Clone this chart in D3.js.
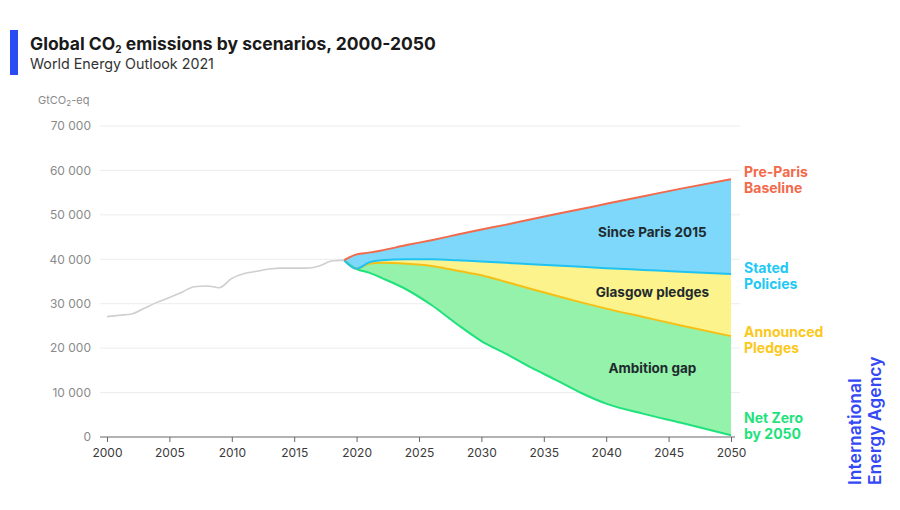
<!DOCTYPE html>
<html>
<head>
<meta charset="utf-8">
<script src="https://d3js.org/d3.v7.min.js"></script>
<style>
  body { margin: 0; background: #fff; }
  svg text { font-family: Inter, "Open Sans", sans-serif; }
</style>
</head>
<body>
<div id="chart"></div>
<script>
// historical emissions (grey line)
var histYears = [2000, 2001, 2002, 2003, 2004, 2005, 2006, 2007, 2008, 2009,
                 2010, 2011, 2012, 2013, 2014, 2015, 2016, 2017, 2018, 2019];
var histValues = [27100, 27400, 27700, 29000, 30300, 31400, 32600, 33800, 34000, 33600,
                  35700, 36800, 37300, 37800, 38000, 38000, 38000, 38500, 39600, 39800];

// scenario years and values
var scenYears = [2019, 2020, 2021, 2022, 2024, 2026, 2028, 2030, 2032, 2034, 2036, 2038, 2040, 2043, 2046, 2050];
var preParis  = [39800, 41100, 41500, 42000, 43200, 44300, 45500, 46700, 47800, 49000, 50200, 51300, 52500, 54200, 55900, 58000];
var stated    = [39800, 37900, 39300, 39800, 40000, 40000, 39800, 39500, 39200, 38900, 38600, 38300, 38000, 37600, 37200, 36700];
var announced = [39800, 37900, 39000, 39200, 39000, 38500, 37500, 36400, 34900, 33300, 31800, 30300, 28900, 27000, 25100, 22700];
var netZero   = [39800, 37800, 37000, 35800, 33200, 29700, 25500, 21600, 18700, 15600, 12800, 9900, 7500, 5200, 3200, 400];

var xTicks = [2000, 2005, 2010, 2015, 2020, 2025, 2030, 2035, 2040, 2045, 2050];
var yTicks = [0, 10000, 20000, 30000, 40000, 50000, 60000, 70000];

var width = 900, height = 510;

var svg = d3.select("#chart").append("svg")
    .attr("width", width)
    .attr("height", height);

var x = d3.scaleLinear().domain([2000, 2050]).range([107, 731]);
var y = d3.scaleLinear().domain([0, 70000]).range([437, 126]);

// title block
svg.append("rect")
    .attr("x", 10).attr("y", 30)
    .attr("width", 8).attr("height", 45)
    .attr("fill", "#2a4cf5");

var title = svg.append("text")
    .attr("x", 30).attr("y", 50)
    .attr("font-size", 17.5)
    .attr("font-weight", 700)
    .attr("fill", "#1a1a1a");
title.append("tspan").text("Global CO");
title.append("tspan").attr("font-size", 10).attr("dy", 3).text("2");
title.append("tspan").attr("dy", -3).text(" emissions by scenarios, 2000-2050");

svg.append("text")
    .attr("x", 30).attr("y", 69)
    .attr("font-size", 14.3)
    .attr("fill", "#333")
    .text("World Energy Outlook 2021");

var unit = svg.append("text")
    .attr("x", 38).attr("y", 104)
    .attr("font-size", 11)
    .attr("fill", "#8a8a8a");
unit.append("tspan").text("GtCO");
unit.append("tspan").attr("font-size", 8).attr("dy", 2).text("2");
unit.append("tspan").attr("dy", -2).text("-eq");

// gridlines
svg.append("g").selectAll("line")
    .data(yTicks.slice(1))
    .enter().append("line")
    .attr("x1", 100).attr("x2", 740)
    .attr("y1", function (d) { return y(d); })
    .attr("y2", function (d) { return y(d); })
    .attr("stroke", "#ececec")
    .attr("stroke-width", 1);

// y axis labels
var yAxis = d3.axisLeft(y)
    .tickValues(yTicks)
    .tickSize(0)
    .tickPadding(0)
    .tickFormat(function (d) { return d3.format(",")(d).replace(/,/g, " "); });

var yg = svg.append("g")
    .attr("transform", "translate(91,0)")
    .call(yAxis);
yg.select(".domain").remove();
yg.selectAll("text")
    .attr("font-size", 12)
    .attr("fill", "#8a8a8a")
    .style("font-family", "Inter, 'Open Sans', sans-serif");

// areas
var data = scenYears.map(function (yr, i) {
  return { year: yr, pre: preParis[i], st: stated[i], an: announced[i], nz: netZero[i] };
});

function band(top, bottom) {
  return d3.area()
      .curve(d3.curveMonotoneX)
      .x(function (d) { return x(d.year); })
      .y0(function (d) { return y(d[bottom]); })
      .y1(function (d) { return y(d[top]); });
}

svg.append("path").datum(data).attr("d", band("pre", "st")).attr("fill", "#7ed8fb");
svg.append("path").datum(data).attr("d", band("st", "an")).attr("fill", "#fcf38c");
svg.append("path").datum(data).attr("d", band("an", "nz")).attr("fill", "#94f2ab");

function lineOf(key) {
  return d3.line()
      .curve(d3.curveMonotoneX)
      .x(function (d) { return x(d.year); })
      .y(function (d) { return y(d[key]); });
}

svg.append("path").datum(data).attr("d", lineOf("nz"))
    .attr("fill", "none").attr("stroke", "#1fe27c").attr("stroke-width", 2);
svg.append("path").datum(data).attr("d", lineOf("an"))
    .attr("fill", "none").attr("stroke", "#f6bf16").attr("stroke-width", 2);
svg.append("path").datum(data).attr("d", lineOf("st"))
    .attr("fill", "none").attr("stroke", "#1fc3f2").attr("stroke-width", 2);
svg.append("path").datum(data).attr("d", lineOf("pre"))
    .attr("fill", "none").attr("stroke", "#f26a4b").attr("stroke-width", 2);

// historical line
var hist = histYears.map(function (yr, i) { return { year: yr, v: histValues[i] }; });
svg.append("path").datum(hist)
    .attr("d", d3.line()
        .curve(d3.curveMonotoneX)
        .x(function (d) { return x(d.year); })
        .y(function (d) { return y(d.v); }))
    .attr("fill", "none")
    .attr("stroke", "#cfcfcf")
    .attr("stroke-width", 1.6);

// x axis
var xAxis = d3.axisBottom(x)
    .tickValues(xTicks)
    .tickSize(5)
    .tickPadding(6)
    .tickFormat(d3.format("d"));

var xg = svg.append("g")
    .attr("transform", "translate(0,437)")
    .call(xAxis);
xg.select(".domain")
    .attr("d", "M100,0H735")
    .attr("stroke", "#666");
xg.selectAll(".tick line").attr("stroke", "#666");
xg.selectAll("text")
    .attr("font-size", 12)
    .attr("fill", "#3a3a3a")
    .style("font-family", "Inter, 'Open Sans', sans-serif");

// band labels
var bandLabels = [
  { text: "Since Paris 2015", yr: 2043.7, v: 45100 },
  { text: "Glasgow pledges", yr: 2043.7, v: 31600 },
  { text: "Ambition gap", yr: 2043.7, v: 14500 }
];
svg.append("g").selectAll("text")
    .data(bandLabels)
    .enter().append("text")
    .attr("x", function (d) { return x(d.yr); })
    .attr("y", function (d) { return y(d.v); })
    .attr("text-anchor", "middle")
    .attr("font-size", 13.5)
    .attr("font-weight", 700)
    .attr("fill", "#1f2a2e")
    .text(function (d) { return d.text; });

// scenario labels on the right
var sideLabels = [
  { lines: ["Pre-Paris", "Baseline"], v: 58500, color: "#f26a4b" },
  { lines: ["Stated", "Policies"], v: 36900, color: "#22c8f5" },
  { lines: ["Announced", "Pledges"], v: 22500, color: "#fbc81b" },
  { lines: ["Net Zero", "by 2050"], v: 3100, color: "#1fe27c" }
];
sideLabels.forEach(function (d) {
  var t = svg.append("text")
      .attr("x", 744)
      .attr("y", y(d.v))
      .attr("font-size", 14)
      .attr("font-weight", 700)
      .attr("fill", d.color);
  t.append("tspan").attr("x", 744).text(d.lines[0]);
  t.append("tspan").attr("x", 744).attr("dy", 16).text(d.lines[1]);
});

// IEA logo text
var logo = svg.append("text")
    .attr("transform", "translate(861,485) rotate(-90)")
    .attr("font-size", 17.5)
    .attr("font-weight", 600)
    .attr("fill", "#3448f6");
logo.append("tspan").attr("x", 0).attr("y", 0).text("International");
logo.append("tspan").attr("x", 0).attr("y", 20).text("Energy Agency");
</script>
</body>
</html>
